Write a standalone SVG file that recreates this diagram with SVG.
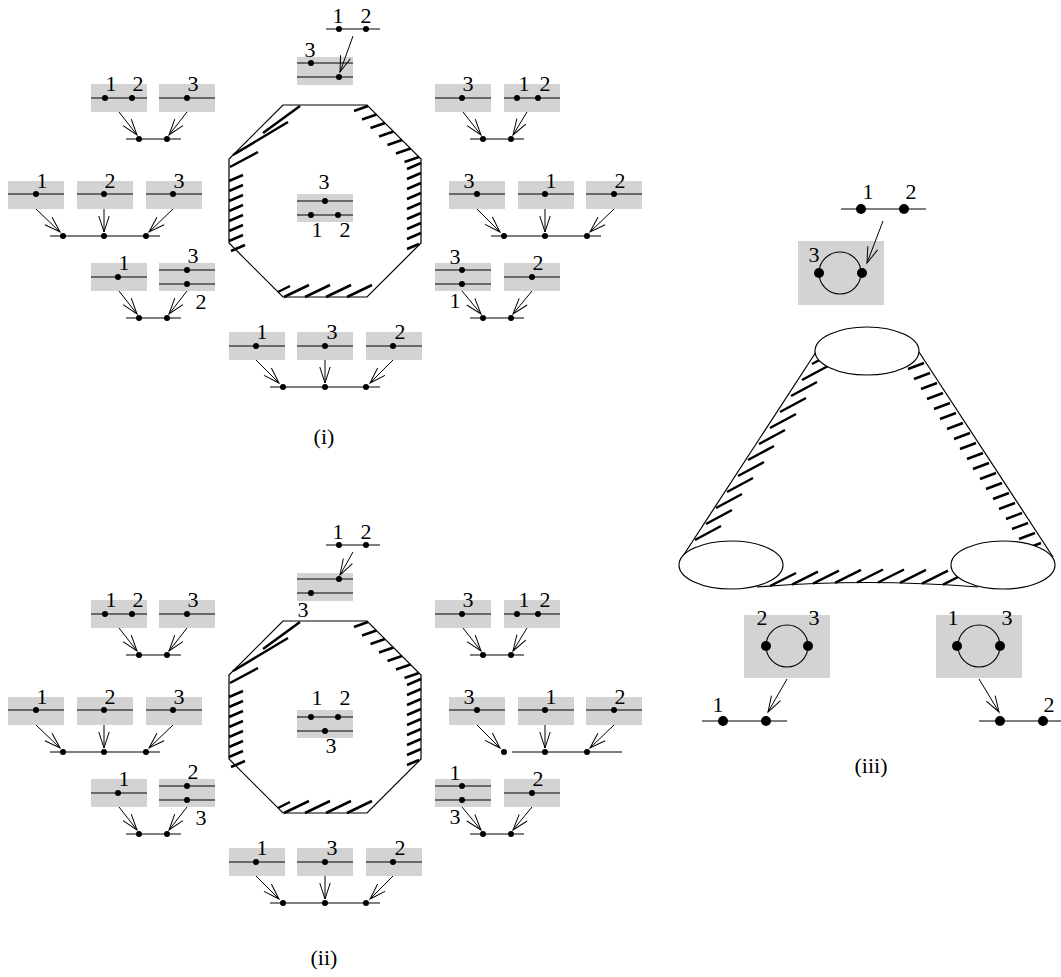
<svg xmlns="http://www.w3.org/2000/svg" width="1061" height="977" viewBox="0 0 1061 977">
<defs>
<style>
.bx{fill:#d3d3d3}
.ln{stroke:#000;stroke-width:1.1;fill:none}
.oc{stroke:#000;stroke-width:1.2;fill:none}
.h{stroke:#000;stroke-width:2.5;fill:none}
.ar{stroke:#000;stroke-width:1;fill:none;marker-end:url(#ah)}
.t{font-family:"Liberation Serif","DejaVu Serif",serif;font-size:22px;text-anchor:middle;fill:#000}
.el{fill:#fff;stroke:#000;stroke-width:1.2}
</style>
<marker id="ah" markerUnits="userSpaceOnUse" viewBox="-18 -7 20 14" markerWidth="20" markerHeight="14" refX="0" refY="0" orient="auto"><path d="M-16,-5.2 L0,0 L-16,5.2" fill="none" stroke="#000" stroke-width="1"/></marker>
</defs>
<rect width="1061" height="977" fill="#fff"/>

<!-- ================= (i) ================= -->
<g id="i-top">
<path class="ln" d="M326,29H380"/>
<circle cx="339" cy="29" r="3"/><circle cx="366" cy="29" r="3"/>
<text class="t" x="338" y="23">1</text><text class="t" x="366" y="23">2</text>
<rect class="bx" x="297" y="57" width="56" height="28"/>
<path class="ln" d="M297,63H353M297,77H353"/>
<circle cx="311" cy="63" r="3"/><circle cx="339" cy="77" r="3"/>
<text class="t" x="310" y="57">3</text>
</g>
<g id="i-octagon">
<polygon class="oc" points="283,105 367,105 421,159 421,243 367,297 283,297 229,243 229,159"/>
<path class="h" d="M263,133L300,106M233,155L288,122M230,167L258,152
M229,181L243,175M229,191L243,185M229,201L243,195M229,211L243,205M229,221L243,215M229,231L243,225M229,241L243,235M231,251L245,245
M407,169L421,163M407,179L421,173M407,189L421,183M407,199L421,193M407,209L421,203M407,219L421,213M407,229L421,223M407,239L421,233M407,249L419,244
M354,111L368,106M362,119.5L376.5,114.5M370.5,128L385,123M379,136.5L393.5,131.5M387.5,145L402,140M396,153.5L410.5,148.5M404.5,162L419,157
M278,292L290,286M284,297L309,285M305,297L330,285M326,297L351,285M347,297L372,285"/>
</g>
<g id="i-center">
<rect class="bx" x="297" y="194" width="56" height="28"/>
<path class="ln" d="M297,201H353M297,215H353"/>
<circle cx="325" cy="201" r="3"/><circle cx="311" cy="215" r="3"/><circle cx="338" cy="215" r="3"/>
<text class="t" x="324" y="189">3</text><text class="t" x="317" y="237">1</text><text class="t" x="345" y="237">2</text>
</g>
<g id="i-a">
<rect class="bx" x="91" y="84" width="56" height="28"/><path class="ln" d="M91,98H147"/>
<circle cx="105" cy="98" r="3"/><circle cx="132" cy="98" r="3"/>
<text class="t" x="111" y="91">1</text><text class="t" x="138" y="91">2</text>
<rect class="bx" x="159" y="84" width="56" height="28"/><path class="ln" d="M159,98H215"/>
<circle cx="187" cy="98" r="3"/><text class="t" x="193" y="91">3</text>
<path class="ln" d="M126,139H181"/><circle cx="139" cy="139" r="3"/><circle cx="167" cy="139" r="3"/>
</g>
<g id="i-b">
<rect class="bx" x="8" y="181" width="56" height="28"/><path class="ln" d="M8,194H64"/>
<circle cx="36" cy="194" r="3"/><text class="t" x="42" y="188">1</text>
<rect class="bx" x="77" y="181" width="56" height="28"/><path class="ln" d="M77,194H133"/>
<circle cx="104" cy="194" r="3"/><text class="t" x="110" y="188">2</text>
<rect class="bx" x="146" y="181" width="56" height="28"/><path class="ln" d="M146,194H202"/>
<circle cx="173" cy="194" r="3"/><text class="t" x="179" y="188">3</text>
<path class="ln" d="M50,236H160"/><circle cx="63" cy="236" r="3"/><circle cx="104" cy="236" r="3"/><circle cx="146" cy="236" r="3"/>
</g>
<g id="i-c">
<rect class="bx" x="91" y="263" width="56" height="28"/><path class="ln" d="M91,277H147"/>
<circle cx="118" cy="277" r="3"/><text class="t" x="124" y="270">1</text>
<rect class="bx" x="159" y="263" width="56" height="28"/><path class="ln" d="M159,270H215M159,284H215"/>
<circle cx="187" cy="270" r="3"/><circle cx="187" cy="284" r="3"/>
<text class="t" x="193" y="263">3</text><text class="t" x="201" y="309">2</text>
<path class="ln" d="M126,318H181"/><circle cx="139" cy="318" r="3"/><circle cx="167" cy="318" r="3"/>
</g>
<g id="i-d">
<rect class="bx" x="435" y="84" width="56" height="28"/><path class="ln" d="M435,98H491"/>
<circle cx="462" cy="98" r="3"/><text class="t" x="468" y="91">3</text>
<rect class="bx" x="504" y="84" width="56" height="28"/><path class="ln" d="M504,98H560"/>
<circle cx="517" cy="98" r="3"/><circle cx="538" cy="98" r="3"/>
<text class="t" x="524" y="91">1</text><text class="t" x="545" y="91">2</text>
<path class="ln" d="M470,139H524"/><circle cx="483" cy="139" r="3"/><circle cx="511" cy="139" r="3"/>
</g>
<g id="i-e">
<rect class="bx" x="449" y="181" width="56" height="28"/><path class="ln" d="M449,194H505"/>
<circle cx="477" cy="194" r="3"/><text class="t" x="469" y="188">3</text>
<rect class="bx" x="518" y="181" width="56" height="28"/><path class="ln" d="M518,194H574"/>
<circle cx="545" cy="194" r="3"/><text class="t" x="551" y="188">1</text>
<rect class="bx" x="586" y="181" width="56" height="28"/><path class="ln" d="M586,194H642"/>
<circle cx="614" cy="194" r="3"/><text class="t" x="620" y="188">2</text>
<path class="ln" d="M491,236H601"/><circle cx="504" cy="236" r="3"/><circle cx="545" cy="236" r="3"/><circle cx="587" cy="236" r="3"/>
</g>
<g id="i-f">
<rect class="bx" x="435" y="263" width="56" height="28"/><path class="ln" d="M435,270H491M435,284H491"/>
<circle cx="462" cy="270" r="3"/><circle cx="462" cy="284" r="3"/>
<text class="t" x="455" y="264">3</text><text class="t" x="455" y="308">1</text>
<rect class="bx" x="504" y="263" width="56" height="28"/><path class="ln" d="M504,277H560"/>
<circle cx="532" cy="277" r="3"/><text class="t" x="538" y="270">2</text>
<path class="ln" d="M470,318H524"/><circle cx="483" cy="318" r="3"/><circle cx="511" cy="318" r="3"/>
</g>
<g id="i-g">
<rect class="bx" x="229" y="332" width="56" height="28"/><path class="ln" d="M229,346H285"/>
<circle cx="256" cy="346" r="3"/><text class="t" x="262" y="339">1</text>
<rect class="bx" x="297" y="332" width="56" height="28"/><path class="ln" d="M297,346H353"/>
<circle cx="325" cy="346" r="3"/><text class="t" x="332" y="339">3</text>
<rect class="bx" x="366" y="332" width="56" height="28"/><path class="ln" d="M366,346H422"/>
<circle cx="393" cy="346" r="3"/><text class="t" x="400" y="339">2</text>
<path class="ln" d="M270,387H380"/><circle cx="283" cy="387" r="3"/><circle cx="325" cy="387" r="3"/><circle cx="366" cy="387" r="3"/>
</g>
<text id="cap-i" class="t" x="324" y="444">(i)</text>

<!-- ================= (ii) ================= -->
<g id="ii-top">
<path class="ln" d="M326,545H380"/>
<circle cx="339" cy="545" r="3"/><circle cx="366" cy="545" r="3"/>
<text class="t" x="338" y="539">1</text><text class="t" x="366" y="539">2</text>
<rect class="bx" x="297" y="573" width="56" height="28"/>
<path class="ln" d="M297,579H353M297,593H353"/>
<circle cx="339" cy="579" r="3"/><circle cx="311" cy="593" r="3"/>
<text class="t" x="303" y="617">3</text>
</g>
<g id="ii-octagon" transform="translate(0,516)">
<polygon class="oc" points="283,105 367,105 421,159 421,243 367,297 283,297 229,243 229,159"/>
<path class="h" d="M263,133L300,106M233,155L288,122M230,167L258,152
M229,181L243,175M229,191L243,185M229,201L243,195M229,211L243,205M229,221L243,215M229,231L243,225M229,241L243,235M231,251L245,245
M407,169L421,163M407,179L421,173M407,189L421,183M407,199L421,193M407,209L421,203M407,219L421,213M407,229L421,223M407,239L421,233M407,249L419,244
M354,111L368,106M362,119.5L376.5,114.5M370.5,128L385,123M379,136.5L393.5,131.5M387.5,145L402,140M396,153.5L410.5,148.5M404.5,162L419,157
M278,292L290,286M284,297L309,285M305,297L330,285M326,297L351,285M347,297L372,285"/>
</g>
<g id="ii-center">
<rect class="bx" x="297" y="710" width="56" height="28"/>
<path class="ln" d="M297,717H353M297,731H353"/>
<circle cx="311" cy="717" r="3"/><circle cx="338" cy="717" r="3"/><circle cx="325" cy="731" r="3"/>
<text class="t" x="317" y="705">1</text><text class="t" x="345" y="705">2</text><text class="t" x="331" y="753">3</text>
</g>
<g id="ii-a">
<rect class="bx" x="91" y="600" width="56" height="28"/><path class="ln" d="M91,614H147"/>
<circle cx="105" cy="614" r="3"/><circle cx="132" cy="614" r="3"/>
<text class="t" x="111" y="607">1</text><text class="t" x="138" y="607">2</text>
<rect class="bx" x="159" y="600" width="56" height="28"/><path class="ln" d="M159,614H215"/>
<circle cx="187" cy="614" r="3"/><text class="t" x="193" y="607">3</text>
<path class="ln" d="M126,655H181"/><circle cx="139" cy="655" r="3"/><circle cx="167" cy="655" r="3"/>
</g>
<g id="ii-b">
<rect class="bx" x="8" y="697" width="56" height="28"/><path class="ln" d="M8,710H64"/>
<circle cx="36" cy="710" r="3"/><text class="t" x="42" y="704">1</text>
<rect class="bx" x="77" y="697" width="56" height="28"/><path class="ln" d="M77,710H133"/>
<circle cx="104" cy="710" r="3"/><text class="t" x="110" y="704">2</text>
<rect class="bx" x="146" y="697" width="56" height="28"/><path class="ln" d="M146,710H202"/>
<circle cx="173" cy="710" r="3"/><text class="t" x="179" y="704">3</text>
<path class="ln" d="M50,752H160"/><circle cx="63" cy="752" r="3"/><circle cx="104" cy="752" r="3"/><circle cx="146" cy="752" r="3"/>
</g>
<g id="ii-c">
<rect class="bx" x="91" y="779" width="56" height="28"/><path class="ln" d="M91,793H147"/>
<circle cx="118" cy="793" r="3"/><text class="t" x="124" y="786">1</text>
<rect class="bx" x="159" y="779" width="56" height="28"/><path class="ln" d="M159,786H215M159,800H215"/>
<circle cx="187" cy="786" r="3"/><circle cx="187" cy="800" r="3"/>
<text class="t" x="193" y="779">2</text><text class="t" x="201" y="825">3</text>
<path class="ln" d="M126,834H181"/><circle cx="139" cy="834" r="3"/><circle cx="167" cy="834" r="3"/>
</g>
<g id="ii-d">
<rect class="bx" x="435" y="600" width="56" height="28"/><path class="ln" d="M435,614H491"/>
<circle cx="462" cy="614" r="3"/><text class="t" x="468" y="607">3</text>
<rect class="bx" x="504" y="600" width="56" height="28"/><path class="ln" d="M504,614H560"/>
<circle cx="517" cy="614" r="3"/><circle cx="538" cy="614" r="3"/>
<text class="t" x="524" y="607">1</text><text class="t" x="545" y="607">2</text>
<path class="ln" d="M470,655H524"/><circle cx="483" cy="655" r="3"/><circle cx="511" cy="655" r="3"/>
</g>
<g id="ii-e">
<rect class="bx" x="449" y="697" width="56" height="28"/><path class="ln" d="M449,710H505"/>
<circle cx="477" cy="710" r="3"/><text class="t" x="469" y="704">3</text>
<rect class="bx" x="518" y="697" width="56" height="28"/><path class="ln" d="M518,710H574"/>
<circle cx="545" cy="710" r="3"/><text class="t" x="551" y="704">1</text>
<rect class="bx" x="586" y="697" width="56" height="28"/><path class="ln" d="M586,710H642"/>
<circle cx="614" cy="710" r="3"/><text class="t" x="620" y="704">2</text>
<path class="ln" d="M512,752H622"/><circle cx="504" cy="752" r="3"/><circle cx="545" cy="752" r="3"/><circle cx="587" cy="752" r="3"/>
</g>
<g id="ii-f">
<rect class="bx" x="435" y="779" width="56" height="28"/><path class="ln" d="M435,786H491M435,800H491"/>
<circle cx="462" cy="786" r="3"/><circle cx="462" cy="800" r="3"/>
<text class="t" x="455" y="780">1</text><text class="t" x="455" y="824">3</text>
<rect class="bx" x="504" y="779" width="56" height="28"/><path class="ln" d="M504,793H560"/>
<circle cx="532" cy="793" r="3"/><text class="t" x="538" y="786">2</text>
<path class="ln" d="M470,834H524"/><circle cx="483" cy="834" r="3"/><circle cx="511" cy="834" r="3"/>
</g>
<g id="ii-g">
<rect class="bx" x="229" y="848" width="56" height="28"/><path class="ln" d="M229,862H285"/>
<circle cx="256" cy="862" r="3"/><text class="t" x="262" y="855">1</text>
<rect class="bx" x="297" y="848" width="56" height="28"/><path class="ln" d="M297,862H353"/>
<circle cx="325" cy="862" r="3"/><text class="t" x="332" y="855">3</text>
<rect class="bx" x="366" y="848" width="56" height="28"/><path class="ln" d="M366,862H422"/>
<circle cx="393" cy="862" r="3"/><text class="t" x="400" y="855">2</text>
<path class="ln" d="M270,903H380"/><circle cx="283" cy="903" r="3"/><circle cx="325" cy="903" r="3"/><circle cx="366" cy="903" r="3"/>
</g>
<text id="cap-ii" class="t" x="324" y="965">(ii)</text>

<!-- ================= (iii) ================= -->
<g id="iii-surface">
<path class="oc" d="M816,352L683,556M919,352L1053,557M757,587Q867,578 978,587"/>
<path class="h" d="M812,364L836,351M802,380L828,366M791,396L817,382M780,412L806,398M770,428L796,414M759,444L785,430M748,460L774,446M738,476L764,462M727,492L753,478M716,508L742,494M706,524L732,510M695,540L721,526
M908,369L924,363M914,379L930,373M921,389L937,383M927,399L943,393M934,409L950,403M940,419L956,413M947,429L963,423M954,439L970,433M960,449L976,443M967,459L983,453M973,469L989,463M980,479L996,473M986,489L1002,483M993,499L1009,493M999,509L1015,503M1006,519L1022,513M1012,529L1028,523M1019,539L1035,533M1025,549L1041,543
M770,586L796,573M792,584.6L818,571.6M813,583.6L839,570.6M835,582.9L861,569.9M857,582.5L883,569.5M878,582.5L904,569.5M900,582.9L926,569.9M922,583.6L948,570.6M943,584.6L962,575"/>
<ellipse class="el" cx="867" cy="351" rx="52" ry="24"/>
<ellipse class="el" cx="731" cy="565" rx="52" ry="24"/>
<ellipse class="el" cx="1003" cy="565" rx="52" ry="24"/>
</g>
<g id="iii-top">
<path class="ln" d="M841,209H926"/>
<circle cx="861" cy="209" r="5"/><circle cx="904" cy="209" r="5"/>
<text class="t" x="868" y="199">1</text><text class="t" x="911" y="199">2</text>
<rect class="bx" x="798" y="241" width="86" height="64"/>
<circle class="ln" cx="840" cy="273" r="21"/>
<circle cx="819" cy="273" r="5"/><circle cx="862" cy="273" r="5"/>
<text class="t" x="814" y="262">3</text>
</g>
<g id="iii-left">
<rect class="bx" x="744" y="615" width="86" height="63"/>
<circle class="ln" cx="787" cy="646" r="21"/>
<circle cx="766" cy="646" r="5"/><circle cx="808" cy="646" r="5"/>
<text class="t" x="762" y="625">2</text><text class="t" x="814" y="625">3</text>
<path class="ln" d="M702,721H787"/>
<circle cx="723" cy="721" r="5"/><circle cx="766" cy="721" r="5"/>
<text class="t" x="718" y="712">1</text>
</g>
<g id="iii-right">
<rect class="bx" x="936" y="615" width="86" height="63"/>
<circle class="ln" cx="979" cy="646" r="21"/>
<circle cx="957" cy="646" r="5"/><circle cx="1000" cy="646" r="5"/>
<text class="t" x="953" y="625">1</text><text class="t" x="1007" y="625">3</text>
<path class="ln" d="M979,721H1061"/>
<circle cx="1000" cy="721" r="5"/><circle cx="1043" cy="721" r="5"/>
<text class="t" x="1049" y="712">2</text>
</g>
<text id="cap-iii" class="t" x="871" y="773">(iii)</text>

<!-- ================= connectors ================= -->
<g id="connectors">
<path class="ar" d="M353,36L340,72"/>
<path class="ar" d="M119,112L137,135"/><path class="ar" d="M187,112L169,135"/>
<path class="ar" d="M36,209L60,232"/><path class="ar" d="M104,209L104,232"/><path class="ar" d="M173,209L149,232"/>
<path class="ar" d="M119,291L137,314"/><path class="ar" d="M187,291L169,314"/>
<path class="ar" d="M463,112L481,135"/><path class="ar" d="M527,112L513,135"/>
<path class="ar" d="M477,209L500,232"/><path class="ar" d="M545,209L545,232"/><path class="ar" d="M614,209L590,232"/>
<path class="ar" d="M462,291L481,314"/><path class="ar" d="M532,291L513,314"/>
<path class="ar" d="M256,360L279,383"/><path class="ar" d="M325,360L325,383"/><path class="ar" d="M393,360L370,383"/>

<path class="ar" d="M353,552L340,575"/>
<path class="ar" d="M119,628L137,651"/><path class="ar" d="M187,628L169,651"/>
<path class="ar" d="M36,725L60,748"/><path class="ar" d="M104,725L104,748"/><path class="ar" d="M173,725L149,748"/>
<path class="ar" d="M119,807L137,830"/><path class="ar" d="M187,807L169,830"/>
<path class="ar" d="M463,628L481,651"/><path class="ar" d="M527,628L513,651"/>
<path class="ar" d="M477,725L500,748"/><path class="ar" d="M545,725L545,748"/><path class="ar" d="M614,725L590,748"/>
<path class="ar" d="M462,807L481,830"/><path class="ar" d="M532,807L513,830"/>
<path class="ar" d="M256,876L279,899"/><path class="ar" d="M325,876L325,899"/><path class="ar" d="M393,876L370,899"/>

<path class="ar" d="M883,221L867,263"/>
<path class="ar" d="M787,679L768,712"/>
<path class="ar" d="M979,679L999,712"/>
</g>
</svg>
